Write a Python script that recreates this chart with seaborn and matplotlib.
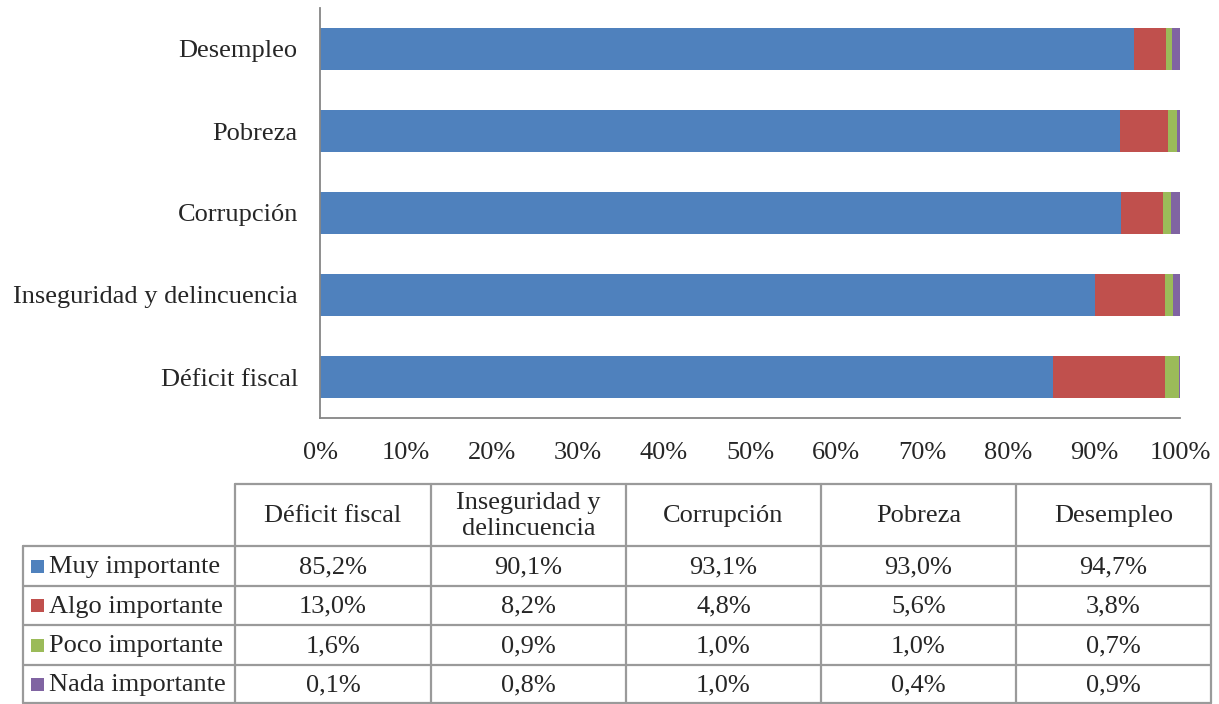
import numpy as np
import pandas as pd
import matplotlib
matplotlib.use('Agg')
import matplotlib.pyplot as plt
from matplotlib.patches import Rectangle
import seaborn as sns

# data
temas = ['Déficit fiscal', 'Inseguridad y delincuencia', 'Corrupción', 'Pobreza', 'Desempleo']
niveles = ['Muy importante', 'Algo importante', 'Poco importante', 'Nada importante']
muy = [85.2, 90.1, 93.1, 93.0, 94.7]
algo = [13.0, 8.2, 4.8, 5.6, 3.8]
poco = [1.6, 0.9, 1.0, 1.0, 0.7]
nada = [0.1, 0.8, 1.0, 0.4, 0.9]
colores = ['#4F81BD', '#C0504D', '#9BBB59', '#8064A2']
xticks = np.arange(0, 101, 10)

sns.set_theme(style='white')
plt.rcParams['font.family'] = ['Liberation Serif', 'DejaVu Serif']
fs = 19

W, H = 1219, 704
fig = plt.figure(figsize=(W / 100, H / 100), dpi=100)

df = pd.DataFrame({'tema': temas, niveles[0]: muy, niveles[1]: algo,
                   niveles[2]: poco, niveles[3]: nada})
vals = df[niveles]
# 100% stacked, like excel
pct = vals.div(vals.sum(axis=1), axis=0) * 100
cum = pct.cumsum(axis=1)
cum['tema'] = df['tema']

orden = temas[::-1]  # Desempleo on top

ax = fig.add_axes([320 / W, 1 - 418 / H, 860 / W, 410 / H])
# draw cumulative totals from the outermost series inward
for nivel, color in reversed(list(zip(niveles, colores))):
    sns.barplot(data=cum, x=nivel, y='tema', order=orden, orient='h',
                color=color, saturation=1, width=0.51, ax=ax,
                edgecolor='none')

ax.set_xlim(0, 100)
ax.set_ylim(4.5, -0.5)
ax.set_xticks(xticks)
ax.set_xticklabels([f'{t}%' for t in xticks], fontsize=fs)
ax.tick_params(axis='x', length=0, pad=17)
ax.tick_params(axis='y', length=0, pad=16, labelsize=fs)
ax.set_xlabel('')
ax.set_ylabel('')
for s in ['top', 'right']:
    ax.spines[s].set_visible(False)
for s in ['left', 'bottom']:
    ax.spines[s].set_color('#868686')
    ax.spines[s].set_linewidth(1.3)

# data table underneath
tax = fig.add_axes([0, 0, 1, 1])
tax.set_xlim(0, W)
tax.set_ylim(H, 0)
tax.axis('off')

col_edges = [23, 235, 431, 626, 821, 1016, 1211]
row_edges = [484, 546, 586, 625, 665, 703]
lc = '#9a9a9a'
lw = 1.6

# header horizontal lines start at first data column
tax.plot([col_edges[1], col_edges[-1]], [row_edges[0]] * 2, color=lc, lw=lw)
for y in row_edges[1:]:
    tax.plot([col_edges[0], col_edges[-1]], [y, y], color=lc, lw=lw)
tax.plot([col_edges[0]] * 2, [row_edges[1], row_edges[-1]], color=lc, lw=lw)
for x in col_edges[1:]:
    tax.plot([x, x], [row_edges[0], row_edges[-1]], color=lc, lw=lw)

cab = ['Déficit fiscal', 'Inseguridad y\ndelincuencia', 'Corrupción', 'Pobreza', 'Desempleo']
for j, t in enumerate(cab):
    xc = (col_edges[j + 1] + col_edges[j + 2]) / 2
    yc = (row_edges[0] + row_edges[1]) / 2
    tax.text(xc, yc + 1, t, ha='center', va='center', fontsize=fs, linespacing=1.2)

series = [muy, algo, poco, nada]
for i, (nivel, color, serie) in enumerate(zip(niveles, colores, series)):
    yc = (row_edges[i + 1] + row_edges[i + 2]) / 2
    tax.add_patch(Rectangle((31, yc - 6.5), 13, 13, color=color, lw=0))
    tax.text(49, yc + 1, nivel, ha='left', va='center', fontsize=fs)
    for j, v in enumerate(serie):
        xc = (col_edges[j + 1] + col_edges[j + 2]) / 2
        tax.text(xc, yc + 1, f'{v:.1f}%'.replace('.', ','), ha='center',
                 va='center', fontsize=fs)

fig.savefig('out.png', dpi=100)
